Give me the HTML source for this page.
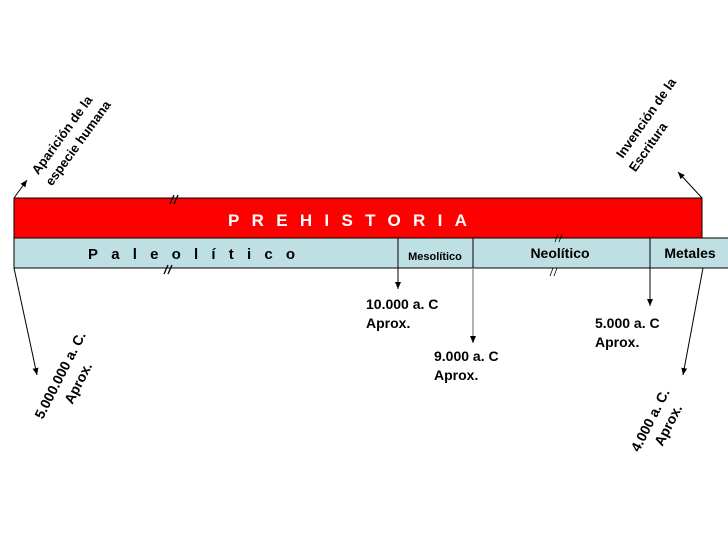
<!DOCTYPE html>
<html><head><meta charset="utf-8"><style>body{margin:0;background:#fff}svg{display:block}text{font-family:"Liberation Sans",sans-serif;font-weight:bold}</style></head><body>
<svg width="728" height="546" viewBox="0 0 728 546" xmlns="http://www.w3.org/2000/svg">
<defs><marker id="a" markerWidth="8" markerHeight="8" refX="7" refY="4" orient="auto" markerUnits="userSpaceOnUse"><path d="M0,1 L7,4 L0,7z" fill="#000"/></marker></defs>
<rect x="14" y="198" width="688" height="40" fill="#ff0000" stroke="#000" stroke-width="1"/>
<rect x="14" y="238" width="720" height="30" fill="#bfe0e3" stroke="#000" stroke-width="1"/>
<line x1="398" y1="238" x2="398" y2="268" stroke="#000"/>
<line x1="473" y1="238" x2="473" y2="268" stroke="#000"/>
<line x1="650" y1="238" x2="650" y2="268" stroke="#000"/>
<text x="228" y="226" fill="#fff" font-size="17" letter-spacing="12.3">PREHISTORIA</text>
<text x="88" y="259" font-size="15" letter-spacing="13.2">Paleolítico</text>
<text x="435" y="260" font-size="11" text-anchor="middle">Mesolítico</text>
<text x="560" y="258" font-size="14" text-anchor="middle">Neolítico</text>
<text x="690" y="258" font-size="14" text-anchor="middle">Metales</text>
<g stroke="#000" stroke-width="1.3">
<line x1="170" y1="204" x2="174" y2="195"/><line x1="174" y1="204" x2="178" y2="195"/>
<line x1="164" y1="274" x2="168" y2="265"/><line x1="168" y1="274" x2="172" y2="265"/>
</g>
<g stroke="#000" stroke-width="0.8">
<line x1="555" y1="242" x2="558" y2="234"/><line x1="559" y1="242" x2="562" y2="234"/>
<line x1="550" y1="276" x2="553" y2="268"/><line x1="554" y1="276" x2="557" y2="268"/>
</g>
<g stroke="#000" stroke-width="1" marker-end="url(#a)">
<line x1="14" y1="198" x2="27" y2="180"/>
<line x1="702" y1="198" x2="678" y2="172"/>
<line x1="14" y1="268" x2="37" y2="375"/>
<line x1="398" y1="268" x2="398" y2="289"/>
<line x1="650" y1="268" x2="650" y2="306"/>
<line x1="703" y1="268" x2="683" y2="375"/>
</g>
<line x1="473" y1="268" x2="473" y2="343" stroke="#999" stroke-width="1.5" marker-end="url(#a)"/>
<g font-size="14">
<text x="366" y="309">10.000 a. C</text><text x="366" y="328">Aprox.</text>
<text x="434" y="361">9.000 a. C</text><text x="434" y="380">Aprox.</text>
<text x="595" y="328">5.000 a. C</text><text x="595" y="347">Aprox.</text>
</g>
<g font-size="13" text-anchor="middle" dominant-baseline="central">
<text transform="translate(62,135) rotate(-54)">Aparición de la</text>
<text transform="translate(78,143) rotate(-54)">especie humana</text>
<text transform="translate(646,118) rotate(-55)">Invención de la</text>
<text transform="translate(648,147) rotate(-55)">Escritura</text>
<text font-size="14" transform="translate(60,375) rotate(-63)">5.000.000 a. C.</text>
<text font-size="14" transform="translate(78,383) rotate(-63)">Aprox.</text>
<text font-size="14" transform="translate(650,420) rotate(-63)">4.000 a. C.</text>
<text font-size="14" transform="translate(668,425) rotate(-63)">Aprox.</text>
</g>
</svg>
</body></html>
